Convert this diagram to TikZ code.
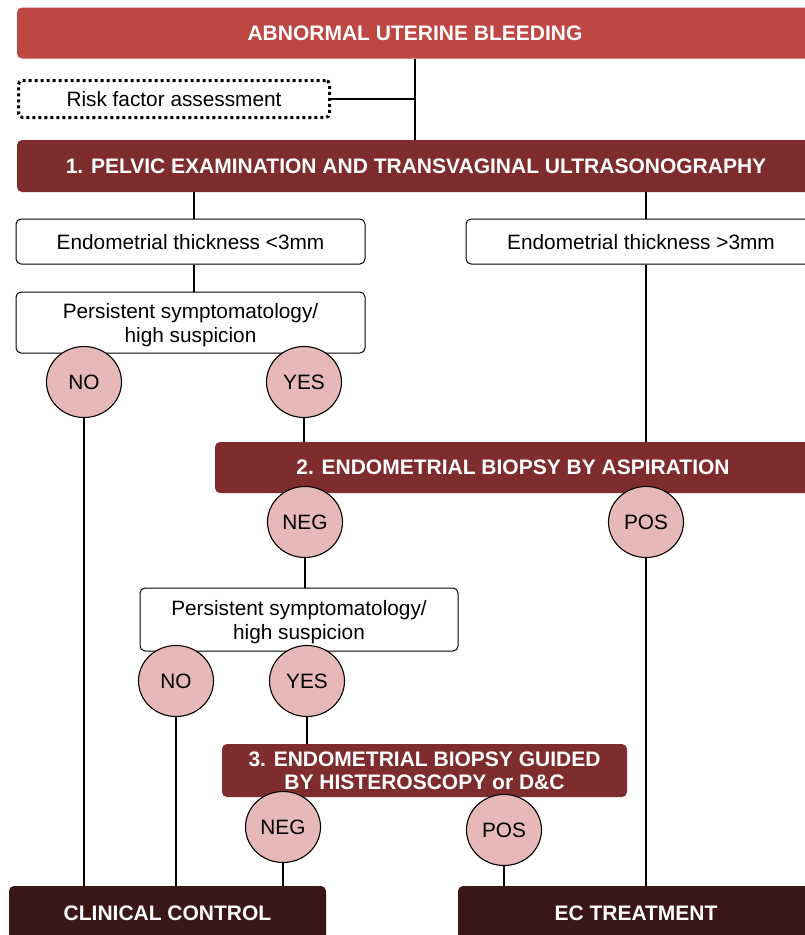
\documentclass[tikz,border=0pt]{standalone}
\usepackage{fontspec}
\setmainfont{Liberation Sans}
\usetikzlibrary{shapes.geometric}
\definecolor{headred}{HTML}{BE4744}
\definecolor{stepred}{HTML}{7F2C2E}
\definecolor{enddark}{HTML}{3A1616}
\definecolor{answerpink}{HTML}{E6B8B7}
\tikzset{
  headbox/.style={rectangle, rounded corners=5pt, fill=headred, text=white,
    font=\fontsize{21}{23}\selectfont\bfseries, inner sep=0pt, align=center, text depth=-1pt},
  stepbox/.style={headbox, fill=stepred},
  endbox/.style={headbox, fill=enddark},
  plainbox/.style={rectangle, rounded corners=5pt, draw=black, line width=1pt, fill=white,
    font=\fontsize{20.8}{24}\selectfont, inner sep=0pt, align=center, text depth=0pt},
  riskbox/.style={plainbox, line width=3pt, dash pattern=on 3pt off 3pt, rounded corners=4pt},
  answer/.style={ellipse, draw=black, line width=1.1pt, fill=answerpink, inner sep=0pt,
    minimum width=75pt, minimum height=71pt, font=\fontsize{20.8}{23}\selectfont},
  link/.style={line width=2.8pt, black}
}
\begin{document}
\begin{tikzpicture}[x=1pt,y=-1pt]
\clip (0,0) rectangle (805,935);
\fill[white] (0,0) rectangle (805,935);

% column guides for the vertical connectors
\coordinate (trunk) at (415,99);
\coordinate (leftcol) at (194,0);
\coordinate (rightcol) at (646,0);

% boxes
\node[headbox, minimum width=796pt, minimum height=51pt] (aub) at (415,33) {ABNORMAL UTERINE BLEEDING};
\node[riskbox, minimum width=311pt, minimum height=37pt] (risk) at (174,99) {Risk factor assessment};
\node[stepbox, minimum width=798pt, minimum height=52pt] (pelvic) at (416,166) {1. PELVIC EXAMINATION AND TRANSVAGINAL ULTRASONOGRAPHY};
\node[plainbox, minimum width=349pt, minimum height=45pt] (thin) at (190.5,241.5) {Endometrial thickness <3mm};
\node[plainbox, minimum width=350pt, minimum height=45pt] (thick) at (641,241.5) {Endometrial thickness >3mm};
\node[plainbox, minimum width=349pt, minimum height=61pt] (persA) at (190.5,322.5) {Persistent symptomatology/\\high suspicion};
\node[stepbox, minimum width=596pt, minimum height=51pt] (aspir) at (513,467.5) {2. ENDOMETRIAL BIOPSY BY ASPIRATION};
\node[plainbox, minimum width=318pt, minimum height=63pt] (persB) at (299,619.5) {Persistent symptomatology/\\high suspicion};
\node[stepbox, minimum width=405pt, minimum height=53pt, text depth=-3pt] (hyst) at (424.5,770.5) {3. ENDOMETRIAL BIOPSY GUIDED\\BY HISTEROSCOPY or D\&C};
\node[endbox, minimum width=317pt, minimum height=54pt] (clin) at (167.5,913) {CLINICAL CONTROL};
\node[endbox, minimum width=356pt, minimum height=54pt] (ectr) at (636,913) {EC TREATMENT};

% answer bubbles
\node[answer] (noA) at (84,382) {NO};
\node[answer] (yesA) at (304,382) {YES};
\node[answer] (negB) at (305,522) {NEG};
\node[answer] (posB) at (646,522) {POS};
\node[answer] (noB) at (176,681) {NO};
\node[answer] (yesB) at (307,681) {YES};
\node[answer] (negC) at (283,827) {NEG};
\node[answer] (posC) at (504,830) {POS};

% connectors
\draw[link] (risk.east) -- (trunk);
\draw[link] (aub.south -| trunk) -- (pelvic.north -| trunk);
\draw[link] (pelvic.south -| leftcol) -- (thin.north -| leftcol);
\draw[link] (thin.south -| leftcol) -- (persA.north -| leftcol);
\draw[link] (pelvic.south -| rightcol) -- (thick.north -| rightcol);
\draw[link] (thick.south -| rightcol) -- (aspir.north -| rightcol);
\draw[link] (noA.south) -- (clin.north -| noA);
\draw[link] (yesA.south) -- (aspir.north -| yesA);
\draw[link] (negB.south) -- (persB.north -| negB);
\draw[link] (posB.south) -- (ectr.north -| posB);
\draw[link] (noB.south) -- (clin.north -| noB);
\draw[link] (yesB.south) -- (hyst.north -| yesB);
\draw[link] (negC.south) -- (clin.north -| negC);
\draw[link] (posC.south) -- (ectr.north -| posC);
\end{tikzpicture}
\end{document}
